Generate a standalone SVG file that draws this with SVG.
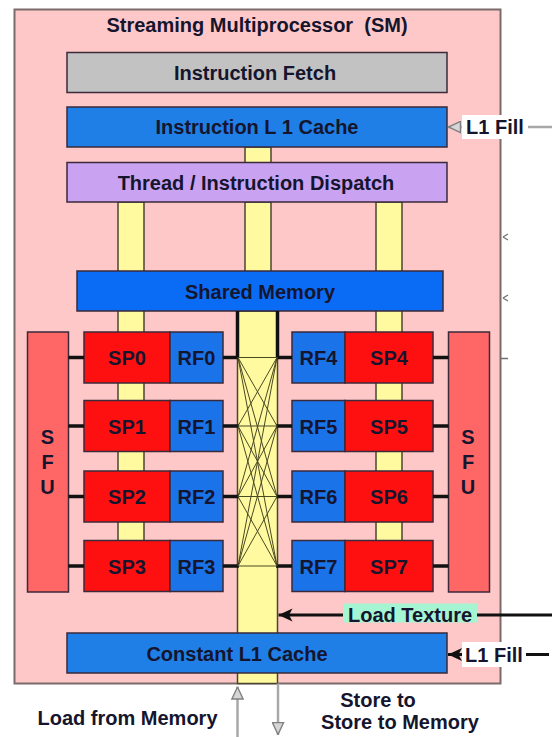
<svg xmlns="http://www.w3.org/2000/svg" width="552" height="737" viewBox="0 0 552 737">
<defs>
<style>
text{font-family:"Liberation Sans",Arial,sans-serif;font-weight:bold;font-size:20px;fill:#15152e;text-anchor:middle}
.box{stroke:#3a2a3a;stroke-width:1.5}
.fetch{fill:#c2c2c2}
.blue{fill:#1f7fe6}
.shm{fill:#0a6cf5}
.rf{fill:#1a73e8}
.disp{fill:#c9a3f2}
.sp{fill:#ff1010}
.sfu{fill:#ff6666}
.bar{fill:#fff9a0;stroke:#4a4530;stroke-width:1.5}
.stub{stroke:#111;stroke-width:3.5}
.xb{stroke:#4a4a22;stroke-width:1;fill:none}
.gline{stroke:#a8a8a8;stroke-width:2.5;fill:none}
.kline{stroke:#111;stroke-width:3;fill:none}
</style>
<marker id="gh" viewBox="0 0 12 12" refX="12" refY="6" markerWidth="13" markerHeight="13" markerUnits="userSpaceOnUse" orient="auto">
<path d="M0.5,0.8 L11.5,6 L0.5,11.2 z" fill="#d6d6d6" stroke="#808080" stroke-width="1.3"/>
</marker>
<marker id="kh" viewBox="0 0 12 12" refX="12" refY="6" markerWidth="14" markerHeight="14" markerUnits="userSpaceOnUse" orient="auto">
<path d="M0,0.5 L12,6 L0,11.5 L3,6 z" fill="#111"/>
</marker>
</defs>
<rect width="552" height="737" fill="#fff"/>

<g id="sm">
<rect x="14.5" y="9.5" width="486" height="674" fill="#ffc8c8" stroke="#7b6b6b" stroke-width="2"/>
<text x="257" y="32" xml:space="preserve">Streaming Multiprocessor  (SM)</text>
<path d="M503,237 l5,-3 M503,237 l5,3 M503,298 l5,-3 M503,298 l5,3 M500,358.5 h8" stroke="#707070" stroke-width="1.3" fill="none"/>
</g>

<g id="buses">
<rect class="bar" x="245" y="147" width="26" height="16"/>
<rect class="bar" x="118" y="202" width="26" height="370"/>
<rect class="bar" x="245" y="202" width="26" height="70"/>
<rect class="bar" x="376" y="202" width="26" height="370"/>
<rect class="bar" x="237.5" y="311" width="40" height="372.5"/>
</g>

<g id="instruction-fetch">
<rect class="box fetch" x="67" y="52.5" width="380" height="40"/>
<text x="255" y="79.5">Instruction Fetch</text>
</g>
<g id="instruction-l1-cache">
<rect class="box blue" x="67" y="107" width="380" height="40"/>
<text x="257" y="134">Instruction L 1 Cache</text>
</g>
<g id="dispatch">
<rect class="box disp" x="67" y="162.5" width="380" height="39.5"/>
<text x="256" y="189.5">Thread / Instruction Dispatch</text>
</g>
<g id="shared-memory">
<rect class="box shm" x="77" y="271" width="366" height="40"/>
<text x="260" y="298.5">Shared Memory</text>
</g>

<g id="sfu-left">
<rect class="box sfu" x="27.5" y="332" width="41" height="260"/>
<text x="47.5" y="444">S</text><text x="47.5" y="469">F</text><text x="47.5" y="494">U</text>
</g>
<g id="sfu-right">
<rect class="box sfu" x="448.5" y="332" width="41" height="260"/>
<text x="468" y="444">S</text><text x="468" y="469">F</text><text x="468" y="494">U</text>
</g>

<g id="sp0"><rect class="box sp" x="84" y="332" width="86" height="51"/><text x="127" y="365">SP0</text></g>
<g id="rf0"><rect class="box rf" x="170" y="332" width="53" height="51"/><text x="196.5" y="365">RF0</text></g>
<g id="sp1"><rect class="box sp" x="84" y="400.5" width="86" height="51"/><text x="127" y="433.5">SP1</text></g>
<g id="rf1"><rect class="box rf" x="170" y="400.5" width="53" height="51"/><text x="196.5" y="433.5">RF1</text></g>
<g id="sp2"><rect class="box sp" x="84" y="471" width="86" height="51"/><text x="127" y="504">SP2</text></g>
<g id="rf2"><rect class="box rf" x="170" y="471" width="53" height="51"/><text x="196.5" y="504">RF2</text></g>
<g id="sp3"><rect class="box sp" x="84" y="540.5" width="86" height="51"/><text x="127" y="573.5">SP3</text></g>
<g id="rf3"><rect class="box rf" x="170" y="540.5" width="53" height="51"/><text x="196.5" y="573.5">RF3</text></g>

<g id="rf4"><rect class="box rf" x="292" y="332" width="53" height="51"/><text x="318.5" y="365">RF4</text></g>
<g id="sp4"><rect class="box sp" x="345" y="332" width="88" height="51"/><text x="389" y="365">SP4</text></g>
<g id="rf5"><rect class="box rf" x="292" y="400.5" width="53" height="51"/><text x="318.5" y="433.5">RF5</text></g>
<g id="sp5"><rect class="box sp" x="345" y="400.5" width="88" height="51"/><text x="389" y="433.5">SP5</text></g>
<g id="rf6"><rect class="box rf" x="292" y="471" width="53" height="51"/><text x="318.5" y="504">RF6</text></g>
<g id="sp6"><rect class="box sp" x="345" y="471" width="88" height="51"/><text x="389" y="504">SP6</text></g>
<g id="rf7"><rect class="box rf" x="292" y="540.5" width="53" height="51"/><text x="318.5" y="573.5">RF7</text></g>
<g id="sp7"><rect class="box sp" x="345" y="540.5" width="88" height="51"/><text x="389" y="573.5">SP7</text></g>

<g id="constant-l1-cache">
<rect class="box blue" x="67" y="633" width="380" height="40"/>
<text x="237" y="660.5">Constant L1 Cache</text>
</g>

<g id="connectors">
<path class="stub" d="M68.5,357.5 H84 M68.5,426 H84 M68.5,496.5 H84 M68.5,566 H84 M433,357.5 H448.5 M433,426 H448.5 M433,496.5 H448.5 M433,566 H448.5"/>
<path class="stub" d="M223,357.5 H239 M223,426 H239 M223,496.5 H239 M223,566 H239 M276,357.5 H292 M276,426 H292 M276,496.5 H292 M276,566 H292"/>
<path class="stub" d="M237.5,311 V357.5 M277.5,311 V357.5"/>
<path class="xb" d="M238,357.5 L277,357.5 M238,357.5 L277,426 M238,357.5 L277,496.5 M238,357.5 L277,566 M238,426 L277,357.5 M238,426 L277,426 M238,426 L277,496.5 M238,426 L277,566 M238,496.5 L277,357.5 M238,496.5 L277,426 M238,496.5 L277,496.5 M238,496.5 L277,566 M238,566 L277,357.5 M238,566 L277,426 M238,566 L277,496.5 M238,566 L277,566"/>
<line class="gline" x1="552" y1="127" x2="448" y2="127" marker-end="url(#gh)"/>
<line class="kline" x1="552" y1="615" x2="278.5" y2="615" marker-end="url(#kh)"/>
<line class="kline" x1="549" y1="654.5" x2="448" y2="654.5" marker-end="url(#kh)"/>
<line class="gline" x1="237.5" y1="737" x2="237.5" y2="686.5" marker-end="url(#gh)"/>
<line class="gline" x1="278" y1="683.5" x2="278" y2="735" marker-end="url(#gh)"/>
</g>

<g id="labels">
<rect x="462" y="115" width="66" height="24" fill="#fff"/>
<text x="495" y="134">L1 Fill</text>
<rect x="343" y="603.5" width="134" height="19" fill="#a6f5d2"/>
<text x="410" y="621.5">Load Texture</text>
<rect x="462" y="642" width="64" height="25" fill="#fff"/>
<text x="494" y="661.5">L1 Fill</text>
<text x="127.5" y="725">Load from Memory</text>
<text x="378" y="707">Store to</text>
<text x="400" y="729">Store to Memory</text>
</g>
</svg>
